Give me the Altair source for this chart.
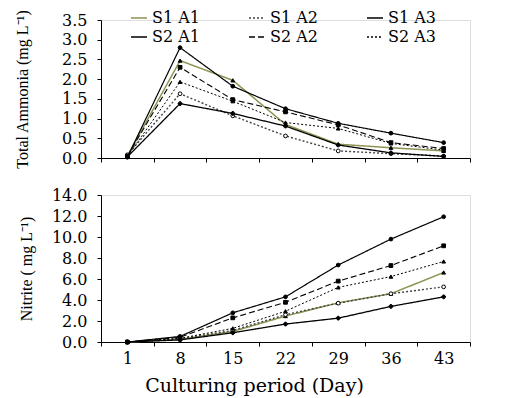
import altair as alt
import pandas as pd

days = [1, 8, 15, 22, 29, 36, 43]
series = ["S1 A1", "S1 A2", "S1 A3", "S2 A1", "S2 A2", "S2 A3"]

amm_s1a1 = [0.05, 2.47, 1.97, 0.85, 0.35, 0.26, 0.18]
amm_s1a2 = [0.08, 1.63, 1.07, 0.56, 0.18, 0.11, 0.05]
amm_s1a3 = [0.03, 1.38, 1.13, 0.81, 0.33, 0.13, 0.04]
amm_s2a1 = [0.02, 2.80, 1.82, 1.25, 0.88, 0.63, 0.39]
amm_s2a2 = [0.05, 2.30, 1.48, 1.17, 0.84, 0.39, 0.24]
amm_s2a3 = [0.04, 1.93, 1.44, 0.90, 0.75, 0.37, 0.20]

nit_s1a1 = [0.0, 0.25, 1.00, 2.47, 3.73, 4.60, 6.62]
nit_s1a2 = [0.0, 0.30, 1.10, 2.60, 3.70, 4.60, 5.25]
nit_s1a3 = [0.0, 0.20, 0.88, 1.71, 2.27, 3.39, 4.30]
nit_s2a1 = [0.0, 0.53, 2.78, 4.30, 7.33, 9.80, 11.93]
nit_s2a2 = [0.0, 0.45, 2.30, 3.78, 5.80, 7.28, 9.16]
nit_s2a3 = [0.0, 0.35, 1.30, 2.93, 5.20, 6.23, 7.67]

amm = [amm_s1a1, amm_s1a2, amm_s1a3, amm_s2a1, amm_s2a2, amm_s2a3]
nit = [nit_s1a1, nit_s1a2, nit_s1a3, nit_s2a1, nit_s2a2, nit_s2a3]


def frame(vals):
    rows = []
    for s, v in zip(series, vals):
        for d, y in zip(days, v):
            rows.append({"day": d, "series": s, "value": y})
    return pd.DataFrame(rows)


df_amm = frame(amm)
df_nit = frame(nit)

colors = ["#8e9350", "#444444", "#000000", "#000000", "#000000", "#000000"]
dashes = [[1, 0], [2, 2], [1, 0], [1, 0], [6, 3], [2, 2]]
widths = [1.5, 1.0, 1.5, 2.0, 1.5, 1.8]
shapes = ["triangle-up", "circle", "cross", "circle", "square", "triangle-up"]
fills = ["#000000", "#ffffff", "#000000", "#000000", "#000000", "#000000"]

SERIF = "DejaVu Serif"
TITLE_FONT = "Liberation Serif"


def panel(df, ymax, ystep, ytitle, show_labels, legend, height, title_pad):
    x = alt.X(
        "day:O",
        sort=days,
        bandPosition=0.5,
        scale=alt.Scale(type="band", paddingInner=0, paddingOuter=0),
        axis=alt.Axis(
            title="Culturing period (Day)" if show_labels else None,
            labels=show_labels,
            tickBand="extent",
            labelAngle=0,
            labelFont=SERIF,
            labelFontSize=16,
            labelPadding=4,
            titleFont=SERIF,
            titleFontSize=19,
            titleFontWeight="normal",
            titlePadding=10,
            titleX=153,
            tickSize=4,
            domainColor="#000",
            tickColor="#000",
            labelColor="#000",
            titleColor="#000",
        ),
    )
    yvals = [round(i * ystep, 2) for i in range(int(round(ymax / ystep)) + 1)]
    y = alt.Y(
        "value:Q",
        scale=alt.Scale(domain=[0, ymax], nice=False),
        axis=alt.Axis(
            title=ytitle,
            values=yvals,
            format=".1f",
            grid=False,
            labelFont=SERIF,
            labelFontSize=16,
            labelPadding=10,
            tickSize=4,
            titleFont=TITLE_FONT,
            titleFontSize=16,
            titleFontWeight="normal",
            titlePadding=title_pad,
            domainColor="#000",
            tickColor="#000",
            labelColor="#000",
            titleColor="#000",
        ),
    )
    color = alt.Color(
        "series:N",
        scale=alt.Scale(domain=series, range=colors),
        legend=legend,
    )
    dash = alt.StrokeDash(
        "series:N",
        scale=alt.Scale(domain=series, range=dashes),
        legend=legend,
    )
    sw = alt.StrokeWidth(
        "series:N", scale=alt.Scale(domain=series, range=widths), legend=None
    )
    lines = alt.Chart(df).mark_line().encode(
        x=x, y=y, color=color, strokeDash=dash, strokeWidth=sw
    )
    pts = alt.Chart(df).mark_point(size=14, strokeWidth=1, opacity=1).encode(
        x=x,
        y=y,
        shape=alt.Shape(
            "series:N", scale=alt.Scale(domain=series, range=shapes), legend=None
        ),
        fill=alt.Fill(
            "series:N", scale=alt.Scale(domain=series, range=fills), legend=None
        ),
        stroke=alt.value("#000"),
    )
    return alt.layer(lines, pts).properties(width=369, height=height)


legend = alt.Legend(
    title=None,
    orient="none",
    direction="horizontal",
    legendX=29,
    legendY=-11,
    columns=3,
    columnPadding=46,
    rowPadding=2,
    labelFont=SERIF,
    labelFontSize=16,
    labelColor="#000",
    labelOffset=4,
    symbolSize=256,
    symbolStrokeWidth=1.5,
    symbolType="stroke",
)

top = panel(df_amm, 3.5, 0.5, "Total Ammonia (mg L⁻¹)", False, legend, 138, 31)
bottom = panel(df_nit, 14.0, 2.0, "Nitrite ( mg L⁻¹)", True, None, 147, 17)

chart = (
    alt.vconcat(top, bottom, spacing=16)
    .resolve_scale(color="independent", strokeDash="independent")
    .resolve_legend(color="independent", strokeDash="independent")
    .properties(padding={"left": 6, "top": 0, "right": 5, "bottom": 5})
    .configure_view(stroke=None)
    .configure(background="white")
)

chart.save("out.html", embed_options={"renderer": "svg", "actions": False})
